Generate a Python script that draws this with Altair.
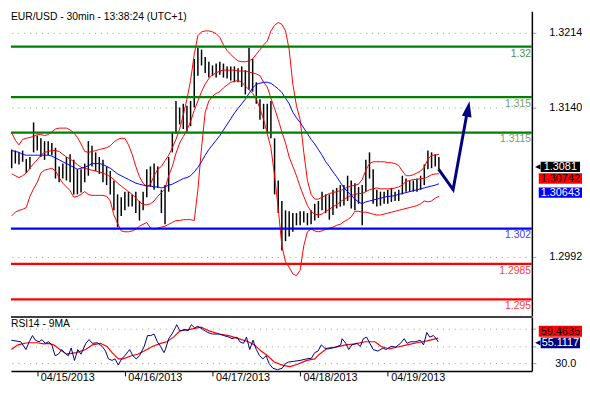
import altair as alt
import pandas as pd

TITLE = "EUR/USD - 30min - 13:38:24 (UTC+1)"
RSI_TITLE = "RSI14 - 9MA"
FONT = "Liberation Sans"

# hour offsets from 2013-04-15 00:00 (one bar per hour)
HOURS = list(range(-7, 111))
HIGH = [1.30982, 1.30972, 1.30954, 1.30972, 1.30889, 1.30908, 1.31250, 1.31120, 1.31093, 1.31065,
        1.31065, 1.31046, 1.31000, 1.30815, 1.30843, 1.30908, 1.30935, 1.30880, 1.30787, 1.30787,
        1.30843, 1.31065, 1.31019, 1.30954, 1.30908, 1.30880, 1.30815, 1.30769, 1.30676, 1.30538,
        1.30510, 1.30565, 1.30565, 1.30538, 1.30565, 1.30473, 1.30565, 1.30787, 1.30815, 1.30843,
        1.30815, 1.30584, 1.30630, 1.30908, 1.31157, 1.31463, 1.31398, 1.31435, 1.31416, 1.31463,
        1.31879, 1.31990, 1.31971, 1.31897, 1.31851, 1.31814, 1.31833, 1.31851, 1.31833, 1.31805,
        1.31805, 1.31805, 1.31786, 1.31805, 1.31768, 1.31990, 1.31879, 1.31648, 1.31481, 1.31435,
        1.31435, 1.31463, 1.31093, 1.30676, 1.30473, 1.30380, 1.30371, 1.30353, 1.30353, 1.30371,
        1.30371, 1.30353, 1.30380, 1.30445, 1.30473, 1.30565, 1.30538, 1.30538, 1.30584, 1.30602,
        1.30630, 1.30630, 1.30723, 1.30676, 1.30649, 1.30612, 1.30630, 1.30880, 1.30954, 1.30787,
        1.30584, 1.30565, 1.30565, 1.30584, 1.30602, 1.30565, 1.30584, 1.30723, 1.30695, 1.30676,
        1.30676, 1.30695, 1.30723, 1.30834, 1.30972, 1.30954, 1.30935, 1.30908]
LOW = [1.30797, 1.30843, 1.30834, 1.30861, 1.30750, 1.30787, 1.30954, 1.30972, 1.30908, 1.30880,
       1.30926, 1.30926, 1.30695, 1.30658, 1.30695, 1.30676, 1.30658, 1.30538, 1.30538, 1.30556,
       1.30658, 1.30723, 1.30815, 1.30769, 1.30741, 1.30658, 1.30630, 1.30538, 1.30380, 1.30214,
       1.30325, 1.30380, 1.30417, 1.30417, 1.30353, 1.30279, 1.30380, 1.30510, 1.30612, 1.30584,
       1.30602, 1.30353, 1.30242, 1.30565, 1.30954, 1.31139, 1.31231, 1.31185, 1.31157, 1.31213,
       1.31398, 1.31712, 1.31814, 1.31740, 1.31694, 1.31712, 1.31694, 1.31722, 1.31694, 1.31685,
       1.31666, 1.31648, 1.31648, 1.31601, 1.31527, 1.31574, 1.31555, 1.31435, 1.31278, 1.31185,
       1.31157, 1.31093, 1.30538, 1.30353, 1.29983, 1.30075, 1.30121, 1.30168, 1.30232, 1.30232,
       1.30260, 1.30232, 1.30242, 1.30279, 1.30306, 1.30380, 1.30353, 1.30288, 1.30334, 1.30399,
       1.30417, 1.30427, 1.30473, 1.30399, 1.30380, 1.30445, 1.30232, 1.30565, 1.30695, 1.30445,
       1.30417, 1.30427, 1.30445, 1.30445, 1.30464, 1.30473, 1.30473, 1.30538, 1.30565, 1.30565,
       1.30565, 1.30565, 1.30584, 1.30630, 1.30787, 1.30797, 1.30815, 1.30787]
BB_UPPER = [1.31148, 1.31074, 1.31028, 1.31083, 1.31093, 1.31102, 1.31111, 1.31130, 1.31130, 1.31120,
            1.31130, 1.31157, 1.31185, 1.31194, 1.31194, 1.31194, 1.31176, 1.31148, 1.31102, 1.31037,
            1.30963, 1.30954, 1.30963, 1.30972, 1.30982, 1.30991, 1.31000, 1.31019, 1.31056, 1.31083,
            1.31093, 1.31093, 1.31028, 1.30935, 1.30815, 1.30713, 1.30649, 1.30612, 1.30639, 1.30723,
            1.30787, 1.30815, 1.30871, 1.30926, 1.31000, 1.31083, 1.31185, 1.31324, 1.31481, 1.31666,
            1.31925, 1.32110, 1.32147, 1.32156, 1.32156, 1.32147, 1.32129, 1.32092, 1.32018, 1.31962,
            1.31925, 1.31888, 1.31860, 1.31851, 1.31851, 1.31860, 1.31879, 1.31925, 1.31971, 1.32018,
            1.32055, 1.32156, 1.32212, 1.32240, 1.32221, 1.32156, 1.31971, 1.31629, 1.31416, 1.31278,
            1.30954, 1.30676, 1.30538, 1.30491, 1.30491, 1.30510, 1.30528, 1.30547, 1.30556, 1.30565,
            1.30575, 1.30593, 1.30612, 1.30621, 1.30630, 1.30639, 1.30686, 1.30778, 1.30843, 1.30861,
            1.30861, 1.30861, 1.30861, 1.30852, 1.30852, 1.30843, 1.30824, 1.30769, 1.30723, 1.30723,
            1.30732, 1.30750, 1.30769, 1.30806, 1.30889, 1.30926, 1.30926, 1.30935]
BB_MID = [1.30741, 1.30723, 1.30704, 1.30723, 1.30750, 1.30797, 1.30843, 1.30880, 1.30926, 1.30954,
          1.30963, 1.30972, 1.30972, 1.30963, 1.30935, 1.30908, 1.30889, 1.30861, 1.30834, 1.30806,
          1.30797, 1.30787, 1.30778, 1.30769, 1.30760, 1.30750, 1.30732, 1.30713, 1.30686, 1.30649,
          1.30621, 1.30593, 1.30565, 1.30538, 1.30501, 1.30464, 1.30436, 1.30436, 1.30445, 1.30473,
          1.30519, 1.30556, 1.30593, 1.30723, 1.30815, 1.30945, 1.31046, 1.31111, 1.31176, 1.31259,
          1.31370, 1.31463, 1.31555, 1.31629, 1.31685, 1.31722, 1.31740, 1.31759, 1.31768, 1.31768,
          1.31768, 1.31768, 1.31759, 1.31759, 1.31759, 1.31749, 1.31740, 1.31731, 1.31712, 1.31648,
          1.31601, 1.31490, 1.31389, 1.31278, 1.31157, 1.31046, 1.30908, 1.30815, 1.30723, 1.30612,
          1.30519, 1.30427, 1.30371, 1.30343, 1.30334, 1.30343, 1.30371, 1.30390, 1.30417, 1.30436,
          1.30464, 1.30491, 1.30510, 1.30528, 1.30538, 1.30547, 1.30547, 1.30565, 1.30584, 1.30593,
          1.30602, 1.30593, 1.30593, 1.30593, 1.30593, 1.30602, 1.30612, 1.30630, 1.30667, 1.30676,
          1.30686, 1.30686, 1.30695, 1.30695, 1.30713, 1.30732, 1.30741, 1.30742]
BB_LOWER = [1.30325, 1.30362, 1.30380, 1.30390, 1.30408, 1.30519, 1.30593, 1.30658, 1.30750, 1.30778,
            1.30787, 1.30797, 1.30769, 1.30704, 1.30649, 1.30612, 1.30575, 1.30510, 1.30519, 1.30538,
            1.30565, 1.30538, 1.30528, 1.30528, 1.30528, 1.30528, 1.30519, 1.30473, 1.30334, 1.30251,
            1.30177, 1.30168, 1.30168, 1.30177, 1.30195, 1.30223, 1.30242, 1.30260, 1.30205, 1.30195,
            1.30205, 1.30214, 1.30223, 1.30242, 1.30260, 1.30279, 1.30279, 1.30288, 1.30288, 1.30288,
            1.30279, 1.30584, 1.31000, 1.31352, 1.31463, 1.31509, 1.31537, 1.31555, 1.31592, 1.31620,
            1.31648, 1.31657, 1.31666, 1.31648, 1.31611, 1.31574, 1.31537, 1.31481, 1.31389, 1.31278,
            1.31139, 1.31000, 1.30723, 1.30399, 1.30029, 1.29872, 1.29816, 1.29751, 1.29733, 1.29788,
            1.30029, 1.30168, 1.30195, 1.30177, 1.30168, 1.30177, 1.30195, 1.30205, 1.30214, 1.30232,
            1.30242, 1.30269, 1.30288, 1.30316, 1.30371, 1.30371, 1.30362, 1.30362, 1.30353, 1.30343,
            1.30334, 1.30334, 1.30343, 1.30353, 1.30362, 1.30371, 1.30380, 1.30390, 1.30399, 1.30408,
            1.30417, 1.30427, 1.30445, 1.30473, 1.30464, 1.30473, 1.30501, 1.30519]
MA_BLUE = [1.30972, 1.30963, 1.30954, 1.30935, 1.30926, 1.30926, 1.30926, 1.30926, 1.30926, 1.30926,
           1.30926, 1.30917, 1.30898, 1.30880, 1.30861, 1.30843, 1.30824, 1.30806, 1.30787, 1.30797,
           1.30806, 1.30824, 1.30843, 1.30843, 1.30843, 1.30834, 1.30815, 1.30797, 1.30769, 1.30741,
           1.30723, 1.30704, 1.30686, 1.30667, 1.30649, 1.30639, 1.30630, 1.30621, 1.30621, 1.30612,
           1.30612, 1.30602, 1.30612, 1.30630, 1.30639, 1.30658, 1.30676, 1.30695, 1.30704, 1.30723,
           1.30760, 1.30806, 1.30861, 1.30926, 1.30982, 1.31028, 1.31074, 1.31120, 1.31176, 1.31231,
           1.31287, 1.31342, 1.31389, 1.31435, 1.31481, 1.31537, 1.31592, 1.31629, 1.31638, 1.31648,
           1.31648, 1.31638, 1.31611, 1.31583, 1.31546, 1.31490, 1.31435, 1.31352, 1.31296, 1.31250,
           1.31194, 1.31139, 1.31083, 1.31037, 1.30982, 1.30926, 1.30861, 1.30815, 1.30760, 1.30713,
           1.30658, 1.30602, 1.30565, 1.30528, 1.30491, 1.30464, 1.30445, 1.30464, 1.30473, 1.30482,
           1.30491, 1.30501, 1.30510, 1.30519, 1.30519, 1.30528, 1.30538, 1.30547, 1.30556, 1.30565,
           1.30575, 1.30584, 1.30593, 1.30602, 1.30612, 1.30621, 1.30630, 1.30643]

RSI_T = [-7.1, -4.5, -3.1, -2.2, -1.3, -0.5, 0.5, 1.3, 2.2, 3.1, 4.0, 4.9, 5.8, 6.7, 7.5, 8.5, 9.3,
         10.2, 11.1, 12.0, 13.3, 14.2, 15.1, 16.5, 17.8, 18.7, 19.5, 20.5, 21.3, 22.2, 23.1, 24.0,
         25.3, 26.2, 27.1, 28.0, 29.3, 30.2, 31.1, 32.0, 32.9, 33.8, 34.7, 35.1, 36.0, 36.9, 37.8,
         38.2, 39.1, 40.5, 41.3, 42.2, 43.1, 44.0, 45.3, 46.7, 48.0, 49.8, 51.1, 52.5, 53.3, 54.7,
         55.5, 56.5, 57.3, 58.2, 59.1, 60.0, 60.9, 61.8, 62.7, 63.5, 64.5, 65.8, 67.1, 68.0, 68.9,
         70.2, 72.0, 73.8, 75.1, 76.0, 76.9, 77.8, 78.7, 79.5, 80.9, 82.2, 83.1, 83.5, 84.5, 85.3,
         86.2, 87.5, 88.5, 89.3, 90.2, 91.1, 92.0, 93.3, 94.7, 95.5, 96.9, 98.2, 99.5, 100.5, 101.3,
         102.2, 103.5, 104.9, 105.8, 106.7, 107.5, 108.5, 109.3, 109.8]
RSI_V = [57.0, 55.2, 46.2, 55.2, 62.4, 57.0, 55.2, 57.7, 53.4, 55.2, 51.6, 39.0, 40.8, 46.2, 42.6,
         39.0, 48.0, 33.6, 46.2, 40.8, 53.4, 57.7, 53.4, 54.1, 49.8, 44.4, 35.4, 33.6, 35.4, 28.2,
         35.4, 39.0, 46.2, 39.0, 35.4, 39.0, 49.8, 62.4, 62.4, 64.2, 55.2, 49.8, 42.6, 46.2, 58.8,
         64.2, 71.4, 75.0, 67.8, 69.6, 67.8, 75.0, 71.4, 73.2, 69.6, 66.0, 64.2, 64.2, 62.4, 60.6,
         58.8, 60.6, 55.2, 53.4, 60.6, 46.2, 57.0, 46.2, 39.0, 35.4, 39.0, 30.0, 24.6, 22.8, 24.6,
         30.0, 31.8, 32.5, 33.6, 35.4, 36.1, 42.6, 44.4, 51.6, 48.0, 46.9, 48.0, 49.8, 51.6, 58.8,
         53.4, 46.2, 51.6, 53.4, 49.8, 58.8, 60.6, 53.4, 46.2, 44.4, 48.0, 46.2, 49.8, 49.1, 53.4,
         58.8, 53.4, 55.2, 55.2, 57.0, 51.6, 66.0, 60.6, 62.4, 58.8, 55.1]
RSI_MA_T = [-7.1, -5.3, -2.7, 0.0, 1.8, 3.1, 4.5, 6.2, 8.0, 10.7, 13.3, 15.1, 17.3, 19.1, 20.5,
            22.2, 23.5, 25.8, 27.5, 29.3, 31.5, 33.8, 35.5, 37.3, 39.1, 41.8, 44.9, 47.1, 49.8,
            52.5, 55.1, 57.8, 59.5, 61.3, 63.1, 64.9, 67.5, 69.3, 71.1, 73.8, 76.0, 77.3, 79.5,
            81.8, 84.5, 87.1, 89.8, 92.5, 94.2, 96.5, 98.7, 101.3, 104.0, 106.7, 109.8]
RSI_MA_V = [46.2, 51.6, 54.1, 54.1, 52.7, 53.4, 51.6, 46.2, 40.8, 42.6, 46.2, 51.6, 53.4, 49.8, 42.6,
            35.4, 35.4, 39.0, 40.8, 44.4, 49.8, 53.4, 55.2, 60.6, 67.8, 69.6, 72.2, 67.8, 64.2,
            62.4, 58.8, 55.2, 51.6, 44.4, 39.0, 31.8, 27.5, 26.4, 28.9, 33.6, 35.4, 40.8, 48.0,
            49.1, 51.6, 52.7, 55.2, 55.2, 49.8, 46.9, 49.1, 51.6, 54.1, 56.3, 59.5]

LEVELS = [1.32, 1.315, 1.3115, 1.302, 1.2985, 1.295]
LEVEL_LABELS = ["1.32", "1.315", "1.3115", "1.302", "1.2985", "1.295"]
LEVEL_COLORS = ["#008000", "#008000", "#008000", "#0000ff", "#ff0000", "#ff0000"]
LEVEL_TEXT_COLORS = ["#4f8f3f", "#6f9f6f", "#6f9f6f", "#4040ff", "#ff4040", "#ff4040"]
PRICE_TICKS = [1.3214, 1.3140, 1.2992]
RSI_TICKS = [30, 50, 70]
DATE_TICKS = [0, 24, 48, 72, 96]
DATE_LABELS = ["04/15/2013", "04/16/2013", "04/17/2013", "04/18/2013", "04/19/2013"]
PROJ_T = [109.9, 113.9, 117.7]
PROJ_P = [1.30789, 1.30586, 1.31342]
ARROW_T = [118.0]
ARROW_P = [1.31384]
LAST_PRICE, BB_LAST, MA_LAST = 1.3081, 1.30742, 1.30643
RSI_LAST, RSI_MA_LAST = 55.1117, 59.4635

W, H_MAIN, H_RSI = 530, 310, 55

bars = pd.DataFrame({"t": HOURS, "high": HIGH, "low": LOW, "upper": BB_UPPER,
                     "middle": BB_MID, "lower": BB_LOWER, "ma": MA_BLUE})
levels = pd.DataFrame({"level": LEVELS, "label": LEVEL_LABELS, "c": LEVEL_COLORS, "tc": LEVEL_TEXT_COLORS})
proj = pd.DataFrame({"t": PROJ_T, "p": PROJ_P, "i": list(range(len(PROJ_T)))})
arrow = pd.DataFrame({"t": ARROW_T, "p": ARROW_P})
rsi = pd.DataFrame({"t": RSI_T, "v": RSI_V})
rsi_ma = pd.DataFrame({"t": RSI_MA_T, "v": RSI_MA_V})

x_scale = alt.Scale(domain=[-7.2, 135.47], nice=False, zero=False)
p_scale = alt.Scale(domain=[1.29335, 1.32351], nice=False, zero=False)
r_scale = alt.Scale(domain=[21.35, 84.05], nice=False, zero=False)

p_axis = alt.Axis(orient="right", values=PRICE_TICKS, format=".4f", grid=True, gridDash=[1, 5],
                  gridColor="#9a9a9a", tickSize=4, tickColor="#9a9a9a", domainColor="black",
                  domainWidth=1.5, labelAlign="center", labelBaseline="middle", labelPadding=30,
                  labelFontSize=11, labelFont=FONT, labelColor="black", title=None)
r_axis = alt.Axis(orient="right", values=RSI_TICKS,
                  labelExpr="datum.value == 30 ? format(datum.value, '.1f') : ''",
                  grid=True, gridDash=[1, 5], gridColor="#9a9a9a", tickSize=4, tickColor="#9a9a9a",
                  domainColor="black", domainWidth=1.5, labelAlign="center", labelBaseline="middle",
                  labelPadding=30, labelFontSize=11, labelFont=FONT, labelColor="black", title=None)
date_expr = "[" + ",".join("'%s'" % d for d in DATE_LABELS) + "][round(datum.value / 24)]"
x_axis = alt.Axis(values=DATE_TICKS, labelExpr=date_expr, tickSize=5, tickColor="black",
                  domainColor="black", domainWidth=1.5, labelAlign="left", labelBaseline="top",
                  labelPadding=-4, labelOffset=3, labelFontSize=11, labelFont=FONT,
                  labelColor="black", grid=False, labelFlush=False, labelOverlap=False, title=None)

XM = alt.X("t:Q", scale=x_scale, axis=None)
XR = alt.X("t:Q", scale=x_scale, axis=x_axis)


def PY(f):
    return alt.Y(f + ":Q", scale=p_scale, axis=p_axis)


def RY(f):
    return alt.Y(f + ":Q", scale=r_scale, axis=r_axis)


def value_box(value, label, fill, tcolor, off, yenc, h, pointer):
    d = pd.DataFrame({"v": [value], "label": [label]})
    base = alt.Chart(d)
    x0 = 539 if pointer else 537
    x1 = 579 if pointer else 581
    layers = [
        base.mark_rect(color=fill, yOffset=off - h / 2, y2Offset=off + h / 2).encode(
            x=alt.value(x0), x2=alt.value(x1), y=yenc("v"), y2="v:Q"),
        base.mark_text(color=tcolor, fontSize=11, font=FONT, align="center", baseline="middle",
                       yOffset=off + 0.5).encode(x=alt.value((x0 + x1) / 2), y=yenc("v"), text="label:N"),
    ]
    if pointer:
        layers.append(base.mark_point(shape="M1,-1 L1,1 L-1,0 Z", filled=True, color=fill, opacity=1,
                                      size=30, yOffset=off).encode(x=alt.value(536), y=yenc("v")))
    return layers


main_layers = [
    alt.Chart(bars).mark_rule(color="black", strokeWidth=1.5).encode(x=XM, y=PY("low"), y2="high:Q"),
    alt.Chart(bars).mark_line(color="#ff0000", strokeWidth=1).encode(x=XM, y=PY("upper")),
    alt.Chart(bars).mark_line(color="#ff0000", strokeWidth=1).encode(x=XM, y=PY("middle")),
    alt.Chart(bars).mark_line(color="#ff0000", strokeWidth=1).encode(x=XM, y=PY("lower")),
    alt.Chart(bars).mark_line(color="#0000ff", strokeWidth=1).encode(x=XM, y=PY("ma")),
    alt.Chart(levels).mark_rule(strokeWidth=2.3).encode(y=PY("level"), color=alt.Color("c:N", scale=None)),
    alt.Chart(levels).mark_text(align="right", baseline="top", dy=2, fontSize=10.5, font=FONT).encode(
        x=alt.value(529), y=PY("level"), text="label:N", color=alt.Color("tc:N", scale=None)),
    alt.Chart(proj).mark_line(color="#000080", strokeWidth=3).encode(x=XM, y=PY("p"), order="i:Q"),
    alt.Chart(arrow).mark_point(shape="M0,-1 L0.62,1 L-0.62,1 Z", filled=True, color="#000080",
                                opacity=1, size=256, angle=10).encode(x=XM, y=PY("p")),
    alt.Chart(pd.DataFrame({"s": [TITLE]})).mark_text(align="left", baseline="middle", fontSize=10.5,
                                                      font=FONT, color="black").encode(
        x=alt.value(0), y=alt.value(6), text="s:N"),
]
main_layers += value_box(LAST_PRICE, "1.3081", "#000000", "#ffffff", 0, PY, 10.5, True)
main_layers += value_box(BB_LAST, "1.30742", "#ff0000", "#000000", 4.8, PY, 10.5, False)
main_layers += value_box(MA_LAST, "1.30643", "#0000ff", "#ffffff", 9.0, PY, 10.5, False)

main = alt.layer(*main_layers).properties(width=W, height=H_MAIN)

rsi_layers = [
    alt.Chart(rsi_ma).mark_line(color="#ff0000", strokeWidth=1.2).encode(x=XR, y=RY("v")),
    alt.Chart(rsi).mark_line(color="#000080", strokeWidth=1).encode(x=XR, y=RY("v")),
    alt.Chart(pd.DataFrame({"a": [0]})).mark_rule(color="black", strokeWidth=1.5).encode(y=alt.value(0)),
    alt.Chart(pd.DataFrame({"s": [RSI_TITLE]})).mark_text(align="left", baseline="middle", fontSize=10.5,
                                                          font=FONT, color="black").encode(
        x=alt.value(0), y=alt.value(7), text="s:N"),
]
rsi_layers += value_box(RSI_MA_LAST, "59.4635", "#ff0000", "#000000", -7.0, RY, 11, False)
rsi_layers += value_box(RSI_LAST, "55.1117", "#000080", "#ffffff", 1.0, RY, 11, True)

rsi_chart = alt.layer(*rsi_layers).properties(width=W, height=H_RSI)

chart = alt.vconcat(main, rsi_chart, spacing=0).properties(padding=0, background="white").configure_view(
    stroke=None)

chart.save("out.html", embed_options={"renderer": "svg", "actions": False})
